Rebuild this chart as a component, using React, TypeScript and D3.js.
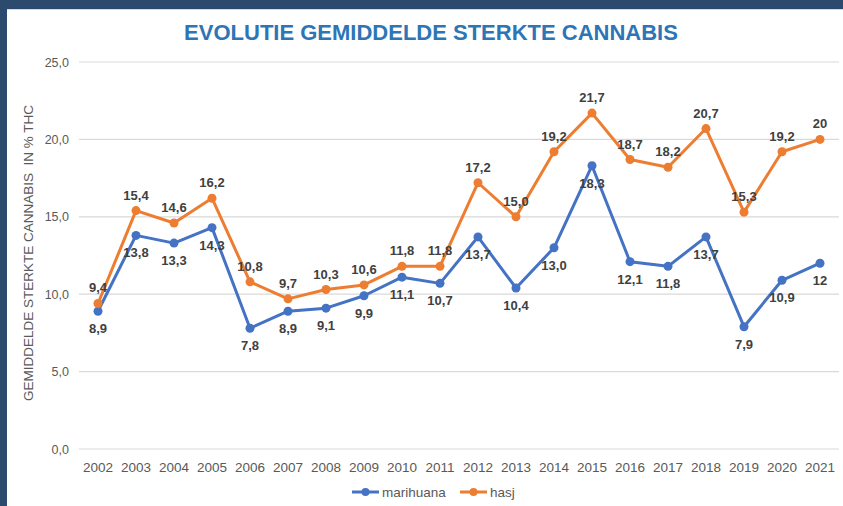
import React, { useRef, useEffect } from 'react';
import * as d3 from 'd3';

const years = ['2002', '2003', '2004', '2005', '2006', '2007', '2008', '2009', '2010', '2011',
    '2012', '2013', '2014', '2015', '2016', '2017', '2018', '2019', '2020', '2021'];
const marihuana = [8.9, 13.8, 13.3, 14.3, 7.8, 8.9, 9.1, 9.9, 11.1, 10.7, 13.7, 10.4, 13.0, 18.3, 12.1, 11.8, 13.7, 7.9, 10.9, 12];
const hasj = [9.4, 15.4, 14.6, 16.2, 10.8, 9.7, 10.3, 10.6, 11.8, 11.8, 17.2, 15.0, 19.2, 21.7, 18.7, 18.2, 20.7, 15.3, 19.2, 20];
const marihuanaLabels = ['8,9', '13,8', '13,3', '14,3', '7,8', '8,9', '9,1', '9,9', '11,1', '10,7', '13,7', '10,4', '13,0', '18,3', '12,1', '11,8', '13,7', '7,9', '10,9', '12'];
const hasjLabels = ['9,4', '15,4', '14,6', '16,2', '10,8', '9,7', '10,3', '10,6', '11,8', '11,8', '17,2', '15,0', '19,2', '21,7', '18,7', '18,2', '20,7', '15,3', '19,2', '20'];
const yTicks = [0, 5, 10, 15, 20, 25];

const W = 843;
const H = 506;
const font = 'Liberation Sans, Arial, sans-serif';

const App: React.FC = () => {
    const svgRef = useRef<SVGSVGElement | null>(null);

    useEffect(() => {
        const svg = d3.select(svgRef.current);
        svg.selectAll('*').remove();

        // background + frame
        svg.append('rect').attr('width', W).attr('height', H).attr('fill', '#ffffff');
        svg.append('rect').attr('x', 0).attr('y', 0).attr('width', W).attr('height', 9).attr('fill', '#2c4a6d');
        svg.append('rect').attr('x', 0).attr('y', 0).attr('width', 7).attr('height', H).attr('fill', '#2c4a6d');
        svg.append('line').attr('x1', 7).attr('x2', W).attr('y1', 9.5).attr('y2', 9.5).attr('stroke', '#d9d9d9');

        const x = d3.scaleBand().domain(years).range([79, 839]);
        const y = d3.scaleLinear().domain([0, 25]).range([449, 62]);
        const cx = (d: string) => x(d)! + x.bandwidth() / 2;

        // title
        svg.append('text')
            .attr('x', 431).attr('y', 40)
            .attr('text-anchor', 'middle')
            .style('font-family', font).style('font-size', '22px').style('font-weight', 'bold')
            .attr('fill', '#2e75b6')
            .text('EVOLUTIE GEMIDDELDE STERKTE CANNABIS');

        // gridlines
        svg.append('g').selectAll('line').data(yTicks).enter().append('line')
            .attr('x1', 79).attr('x2', 839)
            .attr('y1', d => y(d)).attr('y2', d => y(d))
            .attr('stroke', '#d9d9d9').attr('stroke-width', 1.2);

        // y tick labels
        svg.append('g').selectAll('text').data(yTicks).enter().append('text')
            .attr('x', 69).attr('y', d => y(d) + 4.5)
            .attr('text-anchor', 'end')
            .style('font-family', font).style('font-size', '12.5px')
            .attr('fill', '#595959')
            .text(d => d3.format('.1f')(d).replace('.', ','));

        // x labels
        svg.append('g').selectAll('text').data(years).enter().append('text')
            .attr('x', d => cx(d)).attr('y', 472)
            .attr('text-anchor', 'middle')
            .style('font-family', font).style('font-size', '13.5px')
            .attr('fill', '#595959')
            .text(d => d);

        // y axis title
        svg.append('text')
            .attr('transform', 'translate(33,253) rotate(-90)')
            .attr('text-anchor', 'middle')
            .style('font-family', font).style('font-size', '13.5px')
            .attr('fill', '#595959')
            .attr('xml:space', 'preserve')
            .text('GEMIDDELDE STERKTE CANNABIS  IN % THC');

        const series = [
            { name: 'marihuana', values: marihuana, labels: marihuanaLabels, color: '#4472c4', dy: 22 },
            { name: 'hasj', values: hasj, labels: hasjLabels, color: '#ed7d31', dy: -11 },
        ];

        const line = d3.line<number>()
            .x((_, i) => cx(years[i]))
            .y(d => y(d));

        series.forEach(s => {
            const g = svg.append('g');
            g.append('path')
                .datum(s.values)
                .attr('d', line)
                .attr('fill', 'none')
                .attr('stroke', s.color)
                .attr('stroke-width', 3)
                .attr('stroke-linejoin', 'round');
            g.selectAll('circle').data(s.values).enter().append('circle')
                .attr('cx', (_, i) => cx(years[i]))
                .attr('cy', d => y(d))
                .attr('r', 4.5)
                .attr('fill', s.color);
        });

        series.forEach(s => {
            svg.append('g').selectAll('text').data(s.values).enter().append('text')
                .attr('x', (_, i) => cx(years[i]))
                .attr('y', d => y(d) + s.dy)
                .attr('text-anchor', 'middle')
                .style('font-family', font).style('font-size', '13px').style('font-weight', 'bold')
                .attr('fill', '#404040')
                .text((_, i) => s.labels[i]);
        });

        // legend
        const legend = [
            { name: 'marihuana', color: '#4472c4', x: 352 },
            { name: 'hasj', color: '#ed7d31', x: 460 },
        ];
        legend.forEach(l => {
            svg.append('line')
                .attr('x1', l.x).attr('x2', l.x + 27)
                .attr('y1', 492).attr('y2', 492)
                .attr('stroke', l.color).attr('stroke-width', 3);
            svg.append('circle').attr('cx', l.x + 13.5).attr('cy', 492).attr('r', 4).attr('fill', l.color);
            svg.append('text')
                .attr('x', l.x + 30).attr('y', 497)
                .style('font-family', font).style('font-size', '13.5px')
                .attr('fill', '#595959')
                .text(l.name);
        });
    }, []);

    return (
        <svg ref={svgRef} width={W} height={H}
            style={{ position: 'absolute', left: 0, top: 0, display: 'block' }} />
    );
};

export default App;
